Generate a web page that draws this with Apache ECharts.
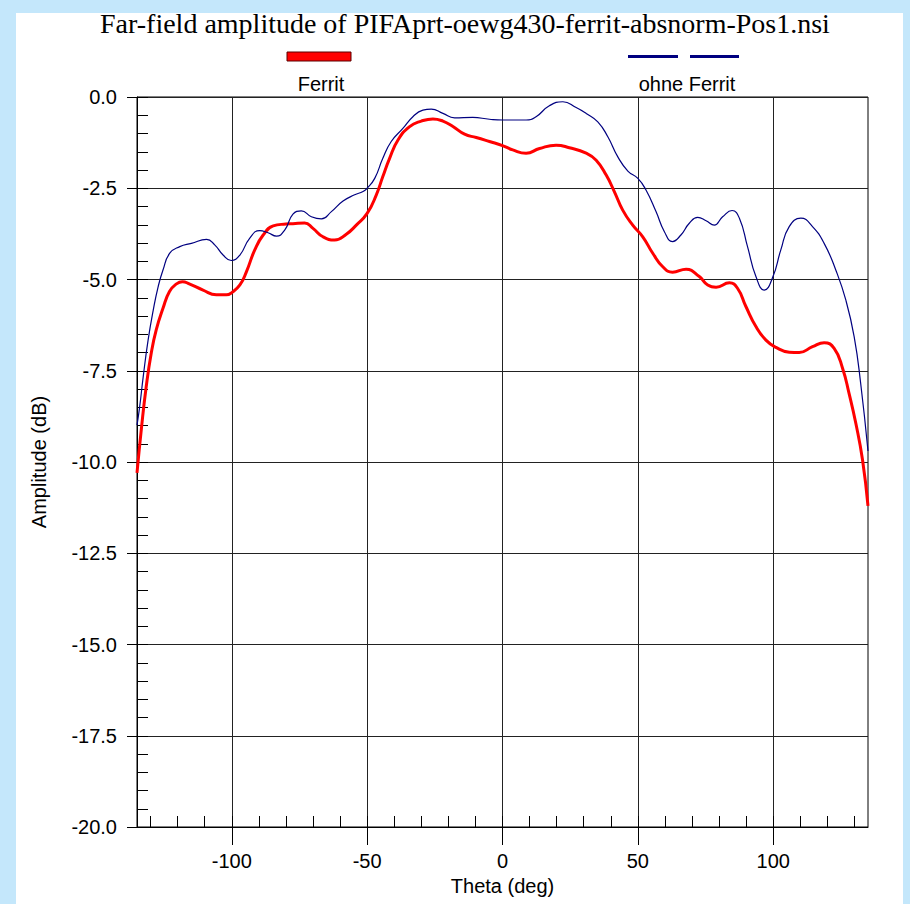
<!DOCTYPE html>
<html>
<head>
<meta charset="utf-8">
<script src="https://cdn.jsdelivr.net/npm/echarts@6/dist/echarts.min.js"></script>
<style>
  html, body { margin:0; padding:0; background:#c4e7fb; }
  #paper { position:absolute; left:16px; top:13px; width:887px; height:891px; background:#ffffff; }
  #c { position:absolute; left:0; top:0; width:910px; height:904px; }
</style>
</head>
<body>
<div id="paper"></div>
<div id="c"></div>
<script>
// ---- data ----
const titleText = 'Far-field amplitude of PIFAprt-oewg430-ferrit-absnorm-Pos1.nsi';
const seriesNames = ['Ferrit', 'ohne Ferrit'];

const ferritTheta = [-135, -133.3, -131.6, -129.7, -127.9, -125.4, -123, -120.4, -118.2, -115.7, -110.6, -105.7, -102, -100, -97, -94.6, -91.5, -88.4, -84.7, -80, -77.4, -73.1, -70, -66.3, -62, -57.7, -54, -50, -46.6, -44.2, -41.7, -38.6, -34.3, -30, -25.7, -22, -18.3, -14, -9.7, -4.8, 0, 3.8, 8.7, 13.7, 19.8, 24.7, 30.9, 34.6, 38.3, 41.3, 44.4, 48.1, 51.8, 55.5, 59.2, 62.8, 67.8, 72.7, 75.8, 78.9, 83.8, 86.8, 89.9, 93.6, 97.3, 101, 105.9, 109.6, 114.5, 118.8, 122.5, 125.6, 128, 130.5, 133, 135];
const ferritDb = [-10.3, -9.03, -7.94, -7.0, -6.38, -5.79, -5.33, -5.12, -5.06, -5.12, -5.29, -5.42, -5.42, -5.36, -5.15, -4.79, -4.19, -3.78, -3.53, -3.48, -3.47, -3.45, -3.60, -3.83, -3.92, -3.76, -3.51, -3.19, -2.68, -2.18, -1.68, -1.18, -0.81, -0.66, -0.60, -0.66, -0.81, -1.02, -1.11, -1.22, -1.33, -1.45, -1.54, -1.41, -1.32, -1.39, -1.54, -1.73, -2.14, -2.59, -3.10, -3.51, -3.83, -4.28, -4.65, -4.80, -4.72, -4.92, -5.15, -5.21, -5.09, -5.24, -5.74, -6.29, -6.66, -6.86, -6.99, -7.00, -6.84, -6.73, -6.89, -7.43, -8.12, -8.94, -9.95, -11.2];

const ohneTheta = [-135, -134, -132.7, -130.9, -129, -127.2, -125.4, -122.9, -119.2, -114.9, -109.3, -106.3, -103.2, -100.2, -97, -93.4, -89.7, -86.6, -83.5, -80.4, -77.4, -74.3, -70.6, -66.9, -63.2, -58.9, -54.6, -51.5, -50, -47.2, -44.2, -41.1, -36.8, -33.1, -29.4, -26.3, -22, -17.7, -11, -4.8, 0, 8.7, 12.4, 17.3, 22.3, 27.2, 30.9, 35.2, 38.9, 42.6, 46.3, 50, 53, 56.7, 59.8, 62.8, 65.9, 69, 72.1, 75.2, 78.2, 81.3, 84.8, 87.5, 90.5, 93.6, 96.7, 99.8, 102.8, 105.9, 110.2, 114.5, 118.8, 123.1, 126.8, 129.9, 132.3, 135];
const ohneDb = [-8.99, -8.48, -7.66, -6.66, -5.84, -5.20, -4.74, -4.28, -4.10, -4.01, -3.90, -4.05, -4.33, -4.48, -4.33, -3.87, -3.66, -3.72, -3.81, -3.64, -3.21, -3.12, -3.28, -3.34, -3.14, -2.85, -2.68, -2.59, -2.50, -2.23, -1.68, -1.22, -0.86, -0.54, -0.36, -0.33, -0.45, -0.57, -0.56, -0.61, -0.63, -0.63, -0.54, -0.24, -0.13, -0.29, -0.45, -0.68, -1.09, -1.64, -2.03, -2.23, -2.55, -3.14, -3.69, -3.96, -3.78, -3.46, -3.30, -3.39, -3.51, -3.28, -3.11, -3.32, -4.10, -4.92, -5.29, -4.94, -4.19, -3.55, -3.32, -3.55, -4.01, -4.74, -5.56, -6.57, -7.85, -9.7];

const thetaMajorTicks = [-100, -50, 0, 50, 100];
const thetaMinorTicks = [-130, -120, -110, -100, -90, -80, -70, -60, -50, -40, -30, -20, -10, 0, 10, 20, 30, 40, 50, 60, 70, 80, 90, 100, 110, 120, 130];
const ampMajorTicks = [0, -2.5, -5, -7.5, -10, -12.5, -15, -17.5, -20];

// ---- chart ----
const sans = 'Liberation Sans, Arial, sans-serif';
const chart = echarts.init(document.getElementById('c'), null, { renderer: 'svg', width: 910, height: 904 });

const pairs = (xs, ys) => xs.map((x, i) => [x, ys[i]]);

chart.setOption({
  backgroundColor: 'transparent',
  animation: false,
  title: {
    text: titleText,
    left: 95, top: 4,
    textStyle: { fontFamily: 'Liberation Serif, Times New Roman, serif', fontSize: 28, fontWeight: 'normal', color: '#000' }
  },
  grid: { left: 137, right: 42, top: 97, bottom: 77, show: true, borderColor: '#000', borderWidth: 1, backgroundColor: 'transparent' },
  xAxis: [
    {
      type: 'value', min: -135, max: 135, position: 'bottom',
      name: 'Theta (deg)', nameLocation: 'middle', nameGap: 47,
      nameTextStyle: { fontFamily: sans, fontSize: 20, color: '#000' },
      axisLine: { show: true, onZero: false, lineStyle: { color: '#000', width: 1 } },
      axisTick: { show: true, inside: false, length: 18, customValues: thetaMajorTicks, lineStyle: { color: '#000', width: 1 } },
      axisLabel: { customValues: thetaMajorTicks, margin: 24, fontFamily: sans, fontSize: 20, color: '#000' },
      splitLine: { show: true, lineStyle: { color: '#222', width: 1 } }
    },
    {
      type: 'value', min: -135, max: 135, position: 'bottom', offset: 0,
      axisLine: { show: false, onZero: false },
      axisTick: { show: true, inside: true, length: 11, customValues: thetaMinorTicks, lineStyle: { color: '#000', width: 1 } },
      axisLabel: { show: false },
      splitLine: { show: false }
    }
  ],
  yAxis: [
    {
      type: 'value', min: -20, max: 0, interval: 2.5, position: 'left',
      name: 'Amplitude (dB)', nameLocation: 'middle', nameGap: 88, nameRotate: 90,
      nameTextStyle: { fontFamily: sans, fontSize: 20, color: '#000' },
      axisLine: { show: true, onZero: false, lineStyle: { color: '#000', width: 1 } },
      axisTick: { show: true, inside: false, length: 10, lineStyle: { color: '#000', width: 1 } },
      axisLabel: { customValues: ampMajorTicks, formatter: v => Number(v).toFixed(1), margin: 20, fontFamily: sans, fontSize: 20, color: '#000' },
      splitLine: { show: true, lineStyle: { color: '#222', width: 1 } }
    },
    {
      type: 'value', min: -20, max: 0, interval: 0.5, position: 'left', offset: 0,
      axisLine: { show: false, onZero: false },
      axisTick: { show: true, inside: true, length: 11, lineStyle: { color: '#000', width: 1 } },
      axisLabel: { show: false },
      splitLine: { show: false }
    }
  ],
  graphic: [
    { type: 'rect', shape: { x: 287, y: 52, width: 64, height: 9 }, style: { fill: '#ff0000', stroke: '#5a0000', lineWidth: 1 } },
    { type: 'line', shape: { x1: 628, y1: 56.5, x2: 739, y2: 56.5 }, style: { stroke: '#000080', lineWidth: 3, lineDash: [50, 12] } },
    { type: 'text', x: 321, y: 84, style: { text: seriesNames[0], font: '20px ' + sans, fill: '#000', textAlign: 'center', textVerticalAlign: 'middle' } },
    { type: 'text', x: 687, y: 84, style: { text: seriesNames[1], font: '20px ' + sans, fill: '#000', textAlign: 'center', textVerticalAlign: 'middle' } }
  ],
  series: [
    {
      name: seriesNames[0], type: 'line', xAxisIndex: 0, yAxisIndex: 0,
      data: pairs(ferritTheta, ferritDb), smooth: 0.5, showSymbol: false,
      lineStyle: { color: '#ff0000', width: 3 }, itemStyle: { color: '#ff0000' }
    },
    {
      name: seriesNames[1], type: 'line', xAxisIndex: 0, yAxisIndex: 0,
      data: pairs(ohneTheta, ohneDb), smooth: 0.5, showSymbol: false,
      lineStyle: { color: '#000080', width: 1.2 }, itemStyle: { color: '#000080' }
    }
  ]
});
</script>
</body>
</html>
